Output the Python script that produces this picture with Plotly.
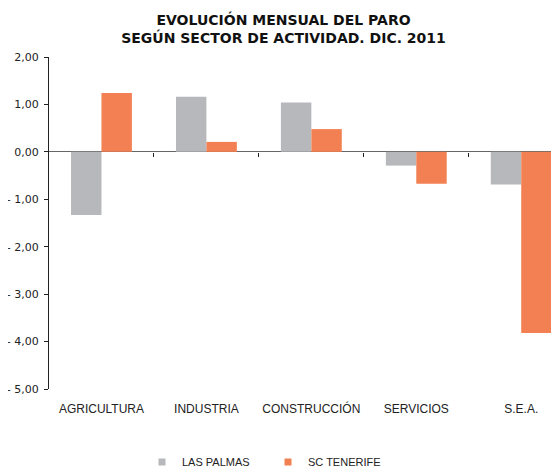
import plotly.graph_objects as go

categories = ["AGRICULTURA", "INDUSTRIA", "CONSTRUCCIÓN", "SERVICIOS", "S.E.A."]
las_palmas = [-1.33, 1.16, 1.04, -0.29, -0.69]
sc_tenerife = [1.24, 0.21, 0.48, -0.67, -3.82]
y_tickvals = [2, 1, 0, -1, -2, -3, -4, -5]
y_ticktext = ["2,00", "1,00", "0,00", "- 1,00", "- 2,00", "- 3,00", "- 4,00", "- 5,00"]

GREY = "#b7b8bb"
ORANGE = "#f38052"
FONT = "Liberation Sans"

fig = go.Figure()
fig.add_trace(go.Bar(x=categories, y=las_palmas, name="LAS PALMAS", showlegend=False,
                     marker=dict(color=GREY, line=dict(width=0))))
fig.add_trace(go.Bar(x=categories, y=sc_tenerife, name="SC TENERIFE", showlegend=False,
                     marker=dict(color=ORANGE, line=dict(width=0))))
# legend entries with small square swatches
for nm, col in (("LAS PALMAS", GREY), ("SC TENERIFE", ORANGE)):
    fig.add_trace(go.Scatter(x=[None], y=[None], mode="markers", name=nm,
                             marker=dict(symbol="square", size=7, color=col)))

fig.add_trace(go.Scatter(x=[0], y=[0], xaxis="x2", mode="markers",
                         marker=dict(opacity=0), showlegend=False, hoverinfo="skip"))

fig.update_layout(
    width=551, height=466,
    paper_bgcolor="white", plot_bgcolor="white",
    margin=dict(l=41, r=0, t=49, b=85, autoexpand=False),
    barmode="group", bargap=0.42, bargroupgap=0,
    font=dict(family=FONT, size=11, color="#222222"),
    title=dict(text="EVOLUCIÓN MENSUAL DEL PARO<br>SEGÚN SECTOR DE ACTIVIDAD. DIC. 2011",
               x=0.5, xanchor="center", xref="container", y=0.963, yanchor="top",
               font=dict(family="DejaVu Sans", size=14, color="#111111", weight="bold")),
    showlegend=True,
    legend=dict(orientation="h", x=(142 - 49) / 510, xanchor="left", y=-0.22, yanchor="middle",
                font=dict(family=FONT, size=11, color="#222222"),
                itemwidth=30, traceorder="normal", entrywidth=81),
    xaxis=dict(type="category", range=[-0.5, 4.36], showgrid=False, showline=False,
               ticks="outside", ticklen=9, tickcolor="rgba(0,0,0,0)", zeroline=False,
               tickfont=dict(family=FONT, size=12, color="#222222")),
    xaxis2=dict(type="linear", range=[-0.5, 4.36], overlaying="x", anchor="free",
                position=5/7, showgrid=False, showline=False, zeroline=False,
                tickmode="array", tickvals=[0.5, 1.5, 2.5, 3.5], ticks="outside",
                ticklen=4, tickcolor="#222222", showticklabels=False),
    yaxis=dict(range=[-5, 2], tickmode="array", tickvals=y_tickvals, ticktext=y_ticktext,
               showgrid=False, showline=True, linecolor="#222222", linewidth=1,
               ticks="outside", ticklen=4, tickcolor="#222222", ticklabelstandoff=3,
               zeroline=True, zerolinecolor="#666666", zerolinewidth=1,
               tickfont=dict(family="DejaVu Sans", size=11, color="#222222")),
)

fig.write_html("out.html")
